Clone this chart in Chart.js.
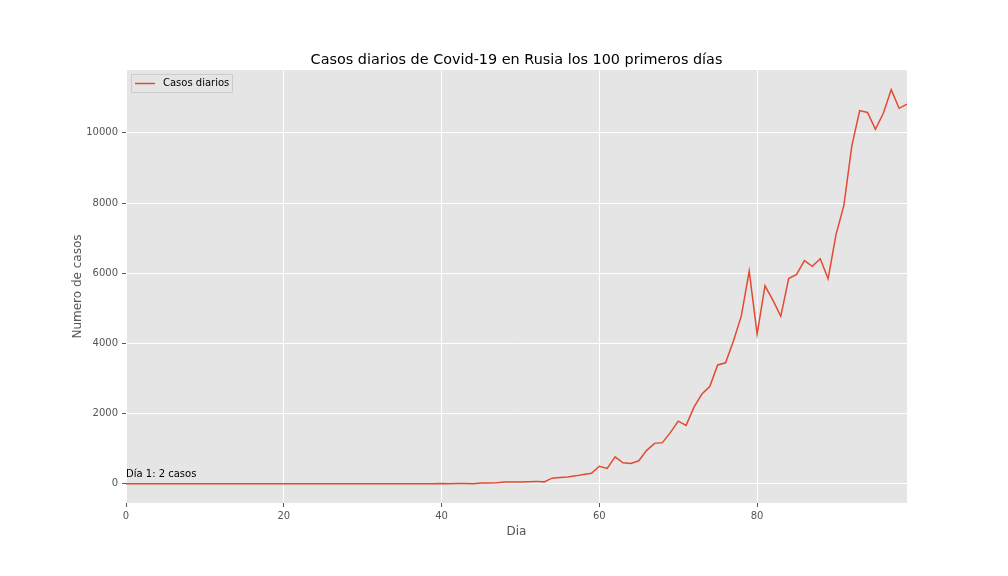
<!DOCTYPE html>
<html>
<head>
<meta charset="utf-8">
<script src="https://cdn.jsdelivr.net/npm/chart.js@4/dist/chart.umd.min.js"></script>
<style>
  html, body { margin: 0; padding: 0; background: #fff; }
  #wrap { width: 1008px; height: 576px; }
</style>
</head>
<body>
<div id="wrap"><canvas id="chart" width="1008" height="576"></canvas></div>
<script>
// dia 0 = 31 de enero de 2020
const feb = [2, 0, 0, 0, 0, 0, 0, 0, 0, 0, 0, 0, 0, 0, 0, 0, 0, 0, 0, 0, 0, 0, 0, 0, 0, 0, 0, 0, 0, 0];
const marzo = [0, 1, 0, 0, 1, 6, 4, 3, 0, 3, 8, 6, 11, 14, 4, 27, 24, 33, 52, 54, 53, 61, 71, 57, 163, 182, 196, 228, 270, 302, 501];
const abril = [440, 771, 601, 582, 658, 954, 1154, 1175, 1459, 1786, 1667, 2186, 2558, 2774, 3388, 3448, 4070, 4785, 6060, 4268,
  5642, 5236, 4774, 5849, 5966, 6361, 6198, 6411, 5841, 7099];
const mayo = [7933, 9623, 10633, 10581, 10102, 10559, 11231, 10699, 10817];
const casos = feb.concat(marzo, abril, mayo);
const dias = casos.map((_, i) => i);

const xTicks = [0, 20, 40, 60, 80];
const yTicks = [0, 2000, 4000, 6000, 8000, 10000];

const titulo = 'Casos diarios de Covid-19 en Rusia los 100 primeros días';
const nombreSerie = 'Casos diarios';
const nota = 'Día 1: 2 casos';

const font = 'DejaVu Sans';

const decor = {
  id: 'decor',
  beforeDraw(chart) {
    const { ctx, chartArea: a } = chart;
    ctx.save();
    ctx.fillStyle = '#E5E5E5';
    ctx.fillRect(a.left, a.top, a.right - a.left, a.bottom - a.top);
    ctx.restore();
  },
  afterDraw(chart) {
    const { ctx, chartArea: a, scales } = chart;
    ctx.save();
    // titulo
    ctx.fillStyle = '#000';
    ctx.font = '14.4px "' + font + '"';
    ctx.textAlign = 'center';
    ctx.textBaseline = 'alphabetic';
    ctx.fillText(titulo, (a.left + a.right) / 2, 64);
    // ejes
    ctx.fillStyle = '#555';
    ctx.font = '12px "' + font + '"';
    ctx.fillText('Dia', (a.left + a.right) / 2, 535);
    ctx.save();
    ctx.translate(81, (a.top + a.bottom) / 2);
    ctx.rotate(-Math.PI / 2);
    ctx.fillText('Numero de casos', 0, 0);
    ctx.restore();
    // anotacion
    ctx.fillStyle = '#000';
    ctx.font = '10px "' + font + '"';
    ctx.textAlign = 'left';
    ctx.fillText(nota, scales.x.getPixelForValue(0), scales.y.getPixelForValue(2) - 7);
    // leyenda
    const lx = a.left + 5, ly = a.top + 4;
    ctx.fillStyle = 'rgba(229,229,229,0.8)';
    ctx.strokeStyle = '#CCCCCC';
    ctx.lineWidth = 1;
    ctx.beginPath();
    ctx.rect(lx + 0.5, ly + 0.5, 101, 18);
    ctx.fill();
    ctx.stroke();
    ctx.strokeStyle = '#E24A33';
    ctx.lineWidth = 1.5;
    ctx.beginPath();
    ctx.moveTo(lx + 4, ly + 9.5);
    ctx.lineTo(lx + 24, ly + 9.5);
    ctx.stroke();
    ctx.fillStyle = '#000';
    ctx.textBaseline = 'middle';
    ctx.fillText(nombreSerie, lx + 32, ly + 9.5);
    ctx.restore();
  }
};

new Chart(document.getElementById('chart'), {
  type: 'line',
  data: {
    labels: dias,
    datasets: [{
      label: nombreSerie,
      data: casos.map((v, i) => ({ x: dias[i], y: v })),
      borderColor: '#E24A33',
      borderWidth: 1.5,
      pointRadius: 0,
      tension: 0,
      fill: false
    }]
  },
  options: {
    responsive: false,
    animation: false,
    layout: { padding: { left: 0, right: 101, top: 70, bottom: 0 } },
    plugins: {
      legend: { display: false },
      title: { display: false },
      tooltip: { enabled: false }
    },
    scales: {
      x: {
        type: 'linear',
        min: 0,
        max: 99,
        afterBuildTicks: s => { s.ticks = xTicks.map(v => ({ value: v })); },
        afterFit: s => { s.height = 73; },
        grid: { color: '#FFFFFF', lineWidth: 1, tickColor: '#555', tickLength: 4 },
        border: { display: false },
        ticks: { color: '#555', font: { family: font, size: 10 }, padding: 3, maxRotation: 0, callback: v => String(v) }
      },
      y: {
        min: -545,
        max: 11790,
        afterBuildTicks: s => { s.ticks = yTicks.map(v => ({ value: v })); },
        afterFit: s => { s.width = 126; },
        grid: { color: '#FFFFFF', lineWidth: 1, tickColor: '#555', tickLength: 4 },
        border: { display: false },
        ticks: { color: '#555', font: { family: font, size: 10 }, padding: 4, callback: v => String(v) }
      }
    }
  },
  plugins: [decor]
});
</script>
</body>
</html>
